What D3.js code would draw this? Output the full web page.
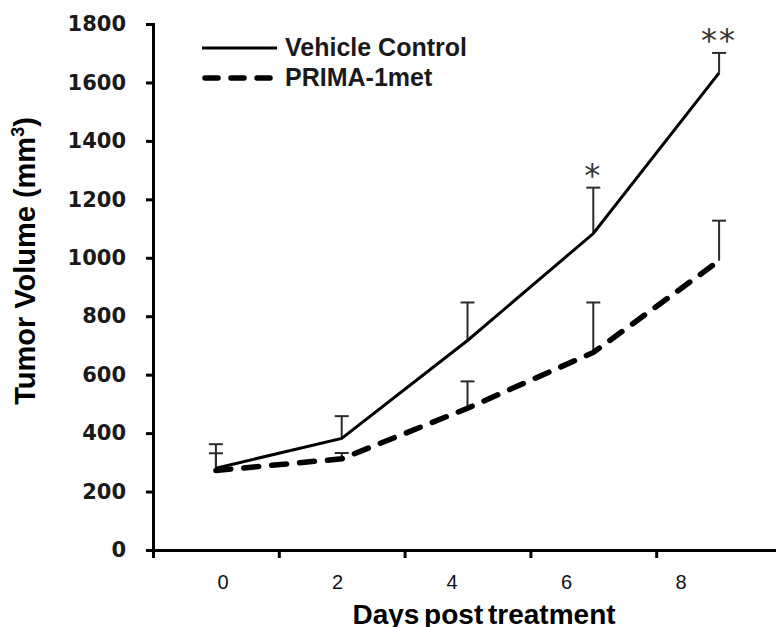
<!DOCTYPE html>
<html>
<head>
<meta charset="utf-8">
<script src="https://cdn.jsdelivr.net/npm/d3@7"></script>
<style>
  body { margin: 0; background: #fff; }
  svg { display: block; }
</style>
</head>
<body>
<div id="node"></div>
<script>
// data
var days = [0, 2, 4, 6, 8];
var vehicleMean = [280, 382, 717, 1083, 1633];
var vehicleErr = [82, 76, 130, 157, 68];
var primaMean = [272, 312, 485, 676, 990];
var primaErr = [59, 20, 92, 171, 137];
var stars = ["", "", "", "*", "**"];
var yTicks = [0, 200, 400, 600, 800, 1000, 1200, 1400, 1600, 1800];
var seriesNames = ["Vehicle Control", "PRIMA-1met"];

var width = 776, height = 627;

var svg = d3.select("#node")
    .append("svg")
    .attr("width", width)
    .attr("height", height);

svg.append("rect").attr("width", width).attr("height", height).attr("fill", "#fff");

// x is linear in days, axis ticks sit on the odd days between the points
var x = d3.scaleLinear().domain([-1, 9]).range([153, 782]);
// the tick labels in the original sit a bit off the points
var xLabel = d3.scalePoint().domain(days).range([223, 681]);
var y = d3.scaleLinear().domain([0, 1800]).range([550, 24]);

// Y axis
var yAxis = svg.append("g")
    .attr("transform", "translate(" + x(-1) + ",0)")
    .call(d3.axisLeft(y).tickValues(yTicks).tickFormat(d3.format("d"))
        .tickSize(7).tickSizeOuter(7).tickPadding(20));
yAxis.select(".domain").style("stroke", "#000").style("stroke-width", "3px");
yAxis.selectAll(".tick line").style("stroke", "#000").style("stroke-width", "3px");
yAxis.selectAll(".tick text")
    .attr("fill", "#1a1a1a")
    .style("font-family", "DejaVu Sans")
    .style("font-weight", "bold")
    .style("font-size", "21px");

// X axis
var xAxis = svg.append("g")
    .attr("transform", "translate(0," + y(0) + ")")
    .call(d3.axisBottom(x).tickValues([-1, 1, 3, 5, 7]).tickSize(8).tickSizeOuter(0).tickFormat(""));
xAxis.select(".domain").style("stroke", "#000").style("stroke-width", "3px");
xAxis.selectAll(".tick line").style("stroke", "#000").style("stroke-width", "3px");

svg.append("g")
    .selectAll("text")
    .data(days)
    .enter()
    .append("text")
    .attr("x", d => xLabel(d))
    .attr("y", 589)
    .attr("text-anchor", "middle")
    .attr("fill", "#111")
    .style("font-family", "Liberation Sans")
    .style("font-size", "20px")
    .text(d => d);

// axis titles
svg.append("text")
    .attr("x", 484)
    .attr("y", 624)
    .attr("text-anchor", "middle")
    .style("font-family", "Liberation Sans")
    .style("font-weight", "bold")
    .style("font-size", "28px")
    .style("word-spacing", "-3px")
    .attr("fill", "#000")
    .text("Days post treatment");

var yTitle = svg.append("text")
    .attr("transform", "translate(35,261) rotate(-90)")
    .attr("text-anchor", "middle")
    .style("font-family", "Liberation Sans")
    .style("font-weight", "bold")
    .style("font-size", "29px")
    .attr("fill", "#000");
yTitle.append("tspan").text("Tumor Volume (mm");
yTitle.append("tspan").attr("dy", -11).style("font-size", "18px").text("3");
yTitle.append("tspan").attr("dy", 11).text(")");

// error bars (upper only)
function errorBars(mean, err) {
    var g = svg.append("g").attr("stroke", "#2a2a2a").attr("stroke-width", 2).attr("fill", "none");
    days.forEach(function (d, i) {
        g.append("line")
            .attr("x1", x(d)).attr("x2", x(d))
            .attr("y1", y(mean[i])).attr("y2", y(mean[i] + err[i]));
        g.append("line")
            .attr("x1", x(d) - 7).attr("x2", x(d) + 7)
            .attr("y1", y(mean[i] + err[i])).attr("y2", y(mean[i] + err[i]));
    });
}
errorBars(vehicleMean, vehicleErr);
errorBars(primaMean, primaErr);

var line = d3.line()
    .x((d, i) => x(days[i]))
    .y(d => y(d));

svg.append("path")
    .datum(vehicleMean)
    .attr("d", line)
    .attr("fill", "none")
    .attr("stroke", "#000")
    .attr("stroke-width", 3);

svg.append("path")
    .datum(primaMean)
    .attr("d", line)
    .attr("fill", "none")
    .attr("stroke", "#000")
    .attr("stroke-width", 5.5)
    .attr("stroke-linecap", "round")
    .attr("stroke-dasharray", "15,13");

// significance stars
svg.append("g")
    .selectAll("text")
    .data(stars)
    .enter()
    .append("text")
    .attr("x", (d, i) => x(days[i]))
    .attr("y", (d, i) => y(vehicleMean[i] + vehicleErr[i]) - 2)
    .attr("text-anchor", "middle")
    .attr("fill", "#333")
    .style("font-family", "DejaVu Sans")
    .style("font-size", "32px")
    .style("letter-spacing", "2px")
    .text(d => d);

// legend
var legend = svg.append("g");
legend.append("line")
    .attr("x1", 202).attr("x2", 277).attr("y1", 48).attr("y2", 48)
    .attr("stroke", "#000").attr("stroke-width", 3);
legend.append("line")
    .attr("x1", 205).attr("x2", 277).attr("y1", 78).attr("y2", 78)
    .attr("stroke", "#000").attr("stroke-width", 5.5)
    .attr("stroke-linecap", "round")
    .attr("stroke-dasharray", "13,13");
legend.selectAll("text")
    .data(seriesNames)
    .enter()
    .append("text")
    .attr("x", 285)
    .attr("y", (d, i) => 56 + i * 30)
    .style("font-family", "Liberation Sans")
    .style("font-weight", "bold")
    .style("font-size", "25px")
    .attr("fill", "#1a1a1a")
    .text(d => d);
</script>
</body>
</html>
